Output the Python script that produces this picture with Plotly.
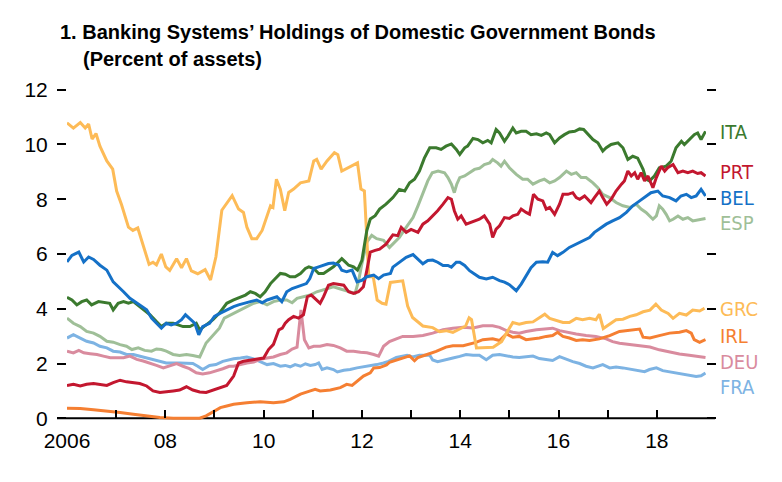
import plotly.graph_objects as go

# ---------------- data (decimal year, percent of assets) ----------------
ita_t = [2006.0, 2006.1, 2006.2, 2006.3, 2006.4, 2006.5, 2006.64, 2006.77, 2006.87, 2006.94, 2007.04, 2007.15, 2007.25, 2007.35, 2007.48, 2007.58, 2007.69, 2007.82, 2007.92, 2008.02, 2008.16, 2008.26, 2008.36, 2008.5, 2008.63, 2008.7, 2008.83, 2008.97, 2009.1, 2009.25, 2009.39, 2009.53, 2009.63, 2009.73, 2009.83, 2009.93, 2010.03, 2010.14, 2010.24, 2010.34, 2010.44, 2010.54, 2010.64, 2010.75, 2010.85, 2010.92, 2011.02, 2011.12, 2011.22, 2011.32, 2011.42, 2011.49, 2011.59, 2011.66, 2011.73, 2011.83, 2011.91, 2012.0, 2012.1, 2012.17, 2012.27, 2012.36, 2012.49, 2012.63, 2012.76, 2012.87, 2012.97, 2013.07, 2013.17, 2013.27, 2013.38, 2013.51, 2013.61, 2013.71, 2013.82, 2013.92, 2013.99, 2014.09, 2014.15, 2014.26, 2014.36, 2014.46, 2014.56, 2014.63, 2014.73, 2014.8, 2014.9, 2014.97, 2015.07, 2015.14, 2015.24, 2015.34, 2015.44, 2015.55, 2015.65, 2015.75, 2015.82, 2015.92, 2016.02, 2016.12, 2016.22, 2016.33, 2016.43, 2016.51, 2016.6, 2016.7, 2016.8, 2016.9, 2016.97, 2017.07, 2017.21, 2017.31, 2017.41, 2017.51, 2017.61, 2017.72, 2017.78, 2017.85, 2017.95, 2018.05, 2018.19, 2018.29, 2018.39, 2018.5, 2018.56, 2018.66, 2018.76, 2018.83, 2018.9, 2018.99]
ita_v = [4.42, 4.32, 4.14, 4.26, 4.32, 4.14, 4.26, 4.22, 4.2, 3.96, 4.2, 4.26, 4.2, 4.26, 4.08, 3.96, 3.78, 3.53, 3.35, 3.47, 3.47, 3.41, 3.35, 3.35, 3.47, 3.23, 3.41, 3.6, 3.84, 4.2, 4.32, 4.44, 4.5, 4.62, 4.56, 4.44, 4.62, 4.92, 5.1, 5.29, 5.26, 5.17, 5.17, 5.29, 5.47, 5.53, 5.47, 5.29, 5.29, 5.41, 5.53, 5.65, 5.83, 5.71, 5.59, 5.53, 5.41, 5.77, 6.86, 7.28, 7.4, 7.64, 7.82, 8.06, 8.36, 8.3, 8.6, 8.73, 9.03, 9.5, 9.88, 9.88, 9.82, 9.94, 10.02, 9.82, 9.64, 9.88, 9.94, 10.22, 10.18, 10.06, 10.15, 10.06, 10.55, 10.42, 10.12, 10.3, 10.6, 10.42, 10.48, 10.48, 10.36, 10.39, 10.33, 10.42, 10.36, 10.06, 10.24, 10.36, 10.46, 10.48, 10.57, 10.55, 10.36, 10.18, 10.06, 9.76, 9.88, 10.0, 10.06, 9.88, 9.45, 9.57, 9.5, 9.09, 8.73, 8.67, 8.85, 9.15, 9.21, 9.39, 9.88, 10.12, 10.0, 10.18, 10.36, 10.42, 10.18, 10.48]

prt_t = [2006.0, 2006.13, 2006.27, 2006.4, 2006.54, 2006.67, 2006.81, 2006.94, 2007.08, 2007.21, 2007.35, 2007.48, 2007.62, 2007.75, 2007.89, 2008.02, 2008.16, 2008.29, 2008.43, 2008.56, 2008.7, 2008.83, 2008.97, 2009.1, 2009.25, 2009.39, 2009.49, 2009.59, 2009.73, 2009.86, 2010.0, 2010.1, 2010.2, 2010.31, 2010.38, 2010.44, 2010.51, 2010.61, 2010.71, 2010.81, 2010.89, 2010.97, 2011.04, 2011.15, 2011.22, 2011.32, 2011.42, 2011.53, 2011.63, 2011.73, 2011.83, 2011.93, 2012.03, 2012.1, 2012.17, 2012.27, 2012.36, 2012.49, 2012.63, 2012.73, 2012.8, 2012.9, 2013.0, 2013.14, 2013.24, 2013.34, 2013.44, 2013.54, 2013.65, 2013.75, 2013.82, 2013.88, 2013.95, 2014.02, 2014.12, 2014.22, 2014.32, 2014.39, 2014.49, 2014.6, 2014.66, 2014.73, 2014.8, 2014.9, 2015.0, 2015.07, 2015.17, 2015.24, 2015.34, 2015.41, 2015.49, 2015.58, 2015.68, 2015.75, 2015.82, 2015.92, 2016.02, 2016.09, 2016.19, 2016.29, 2016.36, 2016.43, 2016.53, 2016.6, 2016.66, 2016.73, 2016.83, 2016.9, 2016.98, 2017.07, 2017.17, 2017.28, 2017.34, 2017.41, 2017.48, 2017.55, 2017.61, 2017.68, 2017.75, 2017.82, 2017.92, 2017.99, 2018.09, 2018.16, 2018.22, 2018.33, 2018.43, 2018.53, 2018.63, 2018.73, 2018.83, 2018.9, 2018.99]
prt_v = [1.2, 1.24, 1.18, 1.24, 1.27, 1.24, 1.2, 1.3, 1.39, 1.33, 1.3, 1.27, 1.18, 1.0, 0.94, 0.96, 1.0, 1.03, 1.15, 1.03, 0.96, 0.94, 1.03, 1.12, 1.2, 1.54, 2.02, 2.08, 2.12, 2.15, 2.2, 2.51, 2.7, 3.23, 3.29, 3.47, 3.6, 3.72, 3.66, 3.78, 4.44, 4.5, 4.38, 4.2, 4.44, 4.86, 4.92, 4.9, 4.86, 4.62, 4.56, 4.62, 4.8, 5.4, 6.07, 6.13, 6.18, 6.36, 6.7, 6.67, 6.97, 6.79, 6.9, 6.79, 7.09, 7.21, 7.39, 7.58, 7.82, 8.06, 8.0, 7.58, 7.27, 7.39, 7.09, 7.15, 7.21, 7.27, 7.39, 7.09, 6.61, 6.91, 7.03, 7.33, 7.3, 7.39, 7.45, 7.64, 7.52, 7.45, 8.18, 8.0, 7.94, 7.64, 7.7, 7.45, 7.82, 8.18, 8.18, 8.24, 8.06, 8.0, 8.12, 8.0, 7.88, 8.06, 8.3, 8.06, 7.82, 8.0, 8.3, 8.55, 8.67, 9.03, 8.85, 8.97, 8.73, 8.97, 8.67, 8.85, 8.42, 8.79, 9.21, 9.03, 9.15, 9.27, 8.97, 9.03, 8.97, 9.03, 8.94, 8.97, 8.85]

bel_t = [2006.0, 2006.1, 2006.24, 2006.34, 2006.44, 2006.54, 2006.67, 2006.81, 2006.94, 2007.05, 2007.15, 2007.28, 2007.42, 2007.55, 2007.62, 2007.72, 2007.82, 2007.92, 2008.02, 2008.12, 2008.23, 2008.33, 2008.41, 2008.51, 2008.6, 2008.68, 2008.76, 2008.9, 2009.0, 2009.12, 2009.24, 2009.39, 2009.49, 2009.59, 2009.73, 2009.86, 2009.97, 2010.07, 2010.17, 2010.27, 2010.37, 2010.47, 2010.58, 2010.68, 2010.78, 2010.87, 2010.94, 2011.02, 2011.12, 2011.22, 2011.32, 2011.42, 2011.53, 2011.59, 2011.69, 2011.8, 2011.9, 2012.0, 2012.1, 2012.24, 2012.34, 2012.44, 2012.58, 2012.63, 2012.76, 2012.9, 2013.04, 2013.14, 2013.24, 2013.34, 2013.44, 2013.54, 2013.65, 2013.75, 2013.82, 2013.92, 2013.99, 2014.09, 2014.19, 2014.29, 2014.39, 2014.53, 2014.66, 2014.8, 2014.9, 2015.0, 2015.14, 2015.24, 2015.34, 2015.44, 2015.55, 2015.68, 2015.78, 2015.88, 2015.98, 2016.09, 2016.22, 2016.36, 2016.49, 2016.63, 2016.73, 2016.83, 2016.97, 2017.1, 2017.24, 2017.38, 2017.51, 2017.65, 2017.78, 2017.88, 2018.02, 2018.12, 2018.26, 2018.39, 2018.49, 2018.6, 2018.7, 2018.8, 2018.9, 2018.99]
bel_v = [5.71, 5.95, 6.07, 5.71, 5.89, 5.8, 5.59, 5.41, 4.98, 4.8, 4.62, 4.38, 4.2, 4.02, 3.96, 3.66, 3.47, 3.29, 3.47, 3.41, 3.47, 3.6, 3.78, 3.6, 3.47, 3.05, 3.35, 3.47, 3.72, 3.84, 3.96, 4.08, 4.14, 4.2, 4.26, 4.32, 4.22, 4.32, 4.38, 4.44, 4.26, 4.62, 4.74, 4.8, 4.86, 4.92, 5.1, 5.47, 5.53, 5.59, 5.65, 5.67, 5.59, 5.41, 5.35, 5.41, 4.98, 5.04, 5.17, 5.23, 5.1, 5.23, 5.29, 5.52, 5.7, 5.88, 5.98, 5.82, 5.64, 5.76, 5.78, 5.7, 5.58, 5.58, 5.52, 5.7, 5.7, 5.58, 5.39, 5.27, 5.15, 5.09, 5.15, 5.03, 4.97, 4.88, 4.66, 4.9, 5.2, 5.5, 5.7, 5.72, 5.7, 6.06, 5.94, 6.06, 6.24, 6.36, 6.48, 6.6, 6.79, 6.91, 7.09, 7.21, 7.33, 7.52, 7.76, 7.94, 8.12, 8.24, 8.3, 8.12, 8.06, 7.94, 8.12, 8.18, 8.06, 8.12, 8.36, 8.12]

esp_t = [2006.0, 2006.13, 2006.27, 2006.4, 2006.54, 2006.67, 2006.81, 2006.94, 2007.08, 2007.21, 2007.32, 2007.45, 2007.58, 2007.72, 2007.82, 2007.92, 2008.02, 2008.16, 2008.29, 2008.43, 2008.56, 2008.7, 2008.83, 2008.97, 2009.1, 2009.2, 2009.39, 2009.53, 2009.66, 2009.8, 2009.93, 2010.07, 2010.2, 2010.34, 2010.47, 2010.58, 2010.68, 2010.81, 2010.95, 2011.08, 2011.19, 2011.29, 2011.42, 2011.53, 2011.63, 2011.76, 2011.86, 2011.93, 2012.0, 2012.1, 2012.2, 2012.3, 2012.44, 2012.56, 2012.76, 2012.9, 2013.04, 2013.14, 2013.24, 2013.34, 2013.43, 2013.55, 2013.68, 2013.75, 2013.82, 2013.88, 2013.93, 2013.99, 2014.09, 2014.19, 2014.29, 2014.39, 2014.49, 2014.6, 2014.66, 2014.76, 2014.83, 2014.9, 2015.0, 2015.14, 2015.27, 2015.37, 2015.48, 2015.61, 2015.71, 2015.82, 2015.92, 2016.02, 2016.16, 2016.26, 2016.36, 2016.46, 2016.56, 2016.7, 2016.8, 2016.9, 2017.04, 2017.17, 2017.31, 2017.45, 2017.58, 2017.68, 2017.78, 2017.92, 2017.99, 2018.05, 2018.12, 2018.19, 2018.26, 2018.33, 2018.43, 2018.53, 2018.63, 2018.73, 2018.83, 2018.99]
esp_v = [3.66, 3.47, 3.35, 3.17, 3.11, 2.99, 2.81, 2.78, 2.69, 2.63, 2.51, 2.57, 2.48, 2.45, 2.53, 2.51, 2.45, 2.33, 2.29, 2.33, 2.29, 2.24, 2.75, 3.05, 3.29, 3.66, 3.84, 3.96, 4.08, 4.2, 4.26, 4.14, 4.26, 4.32, 4.32, 4.22, 4.38, 4.44, 4.5, 4.62, 4.68, 4.74, 4.8, 4.74, 4.68, 4.62, 4.56, 5.0, 5.65, 6.43, 6.68, 6.56, 6.5, 6.24, 6.6, 6.97, 7.33, 7.76, 8.18, 8.67, 8.97, 9.03, 8.97, 8.79, 8.55, 8.24, 8.55, 8.79, 8.85, 8.97, 9.09, 9.13, 9.27, 9.33, 9.45, 9.33, 9.21, 9.39, 9.15, 8.91, 8.73, 8.73, 8.55, 8.67, 8.73, 8.6, 8.67, 8.79, 9.03, 8.91, 8.97, 8.79, 8.79, 8.6, 8.42, 8.18, 8.06, 7.88, 7.76, 7.7, 7.82, 7.64, 7.52, 7.27, 7.39, 7.76, 7.64, 7.45, 7.21, 7.27, 7.39, 7.27, 7.33, 7.21, 7.24, 7.3]

grc_t = [2006.0, 2006.13, 2006.27, 2006.37, 2006.44, 2006.51, 2006.59, 2006.67, 2006.81, 2006.93, 2007.01, 2007.11, 2007.25, 2007.34, 2007.44, 2007.54, 2007.67, 2007.75, 2007.82, 2007.92, 2008.01, 2008.09, 2008.23, 2008.33, 2008.43, 2008.53, 2008.66, 2008.81, 2008.92, 2009.03, 2009.15, 2009.36, 2009.49, 2009.59, 2009.66, 2009.76, 2009.86, 2009.97, 2010.07, 2010.14, 2010.19, 2010.26, 2010.34, 2010.43, 2010.51, 2010.61, 2010.75, 2010.92, 2011.02, 2011.08, 2011.17, 2011.29, 2011.44, 2011.51, 2011.59, 2011.75, 2011.91, 2011.98, 2012.05, 2012.14, 2012.23, 2012.31, 2012.41, 2012.49, 2012.58, 2012.83, 2012.93, 2013.03, 2013.24, 2013.44, 2013.58, 2013.71, 2013.85, 2013.99, 2014.11, 2014.18, 2014.23, 2014.33, 2014.4, 2014.67, 2014.84, 2014.97, 2015.07, 2015.2, 2015.34, 2015.48, 2015.58, 2015.72, 2015.82, 2015.95, 2016.09, 2016.22, 2016.36, 2016.49, 2016.63, 2016.76, 2016.83, 2016.91, 2017.04, 2017.17, 2017.31, 2017.45, 2017.58, 2017.72, 2017.86, 2017.98, 2018.09, 2018.23, 2018.33, 2018.46, 2018.6, 2018.73, 2018.87, 2018.97]
grc_v = [10.79, 10.6, 10.8, 10.6, 10.75, 10.2, 10.4, 9.94, 9.4, 9.1, 8.3, 7.8, 6.98, 6.86, 6.95, 6.37, 5.62, 5.7, 5.6, 6.0, 5.53, 5.4, 5.83, 5.5, 5.83, 5.38, 5.28, 5.43, 5.05, 5.9, 7.6, 8.13, 7.64, 7.52, 6.98, 6.56, 6.56, 6.86, 7.4, 7.76, 7.7, 8.73, 8.37, 7.58, 8.25, 8.37, 8.6, 8.67, 9.4, 9.46, 9.1, 9.4, 9.7, 9.63, 9.03, 9.18, 9.33, 8.37, 8.3, 5.17, 5.17, 4.32, 4.2, 4.17, 4.96, 5.02, 4.1, 3.68, 3.37, 3.31, 3.16, 3.2, 3.14, 3.26, 3.37, 3.67, 3.6, 2.57, 2.57, 2.59, 2.8, 3.2, 3.5, 3.44, 3.5, 3.52, 3.65, 3.8, 3.65, 3.57, 3.5, 3.5, 3.65, 3.6, 3.65, 3.6, 3.8, 3.28, 3.44, 3.6, 3.62, 3.72, 3.78, 3.89, 3.95, 4.17, 3.95, 3.83, 3.65, 3.83, 3.77, 3.95, 3.92, 4.02]

irl_t = [2006.0, 2006.27, 2006.54, 2006.81, 2007.08, 2007.35, 2007.62, 2007.89, 2008.16, 2008.43, 2008.7, 2008.83, 2008.97, 2009.12, 2009.25, 2009.39, 2009.66, 2009.93, 2010.2, 2010.41, 2010.54, 2010.75, 2010.95, 2011.05, 2011.15, 2011.36, 2011.56, 2011.69, 2011.8, 2011.9, 2012.03, 2012.17, 2012.24, 2012.36, 2012.5, 2012.56, 2012.76, 2012.97, 2013.07, 2013.14, 2013.31, 2013.51, 2013.71, 2013.85, 2014.06, 2014.19, 2014.32, 2014.46, 2014.66, 2014.8, 2014.94, 2015.07, 2015.2, 2015.34, 2015.48, 2015.61, 2015.75, 2015.88, 2015.98, 2016.09, 2016.22, 2016.36, 2016.49, 2016.63, 2016.83, 2017.04, 2017.24, 2017.45, 2017.65, 2017.72, 2017.86, 2018.05, 2018.26, 2018.46, 2018.6, 2018.7, 2018.76, 2018.87, 2018.99]
irl_v = [0.37, 0.36, 0.31, 0.27, 0.21, 0.15, 0.09, 0.03, 0.0, 0.0, 0.0, 0.09, 0.25, 0.39, 0.45, 0.51, 0.57, 0.6, 0.57, 0.6, 0.69, 0.88, 1.0, 1.06, 1.0, 1.03, 1.12, 1.24, 1.2, 1.36, 1.54, 1.66, 1.84, 1.85, 1.95, 2.04, 2.16, 2.28, 2.1, 2.22, 2.32, 2.44, 2.6, 2.65, 2.65, 2.7, 2.77, 2.87, 2.9, 2.84, 3.08, 2.96, 2.99, 2.87, 2.9, 2.93, 2.99, 3.02, 3.14, 2.99, 2.93, 2.84, 2.87, 2.84, 2.9, 3.02, 3.17, 3.23, 3.26, 2.96, 2.93, 3.02, 3.11, 3.14, 3.2, 3.11, 2.87, 2.77, 2.87]

deu_t = [2006.0, 2006.13, 2006.24, 2006.34, 2006.47, 2006.61, 2006.74, 2006.88, 2007.01, 2007.15, 2007.28, 2007.42, 2007.55, 2007.69, 2007.82, 2007.96, 2008.09, 2008.23, 2008.36, 2008.49, 2008.63, 2008.76, 2008.9, 2009.03, 2009.17, 2009.3, 2009.39, 2009.53, 2009.66, 2009.8, 2009.93, 2010.07, 2010.2, 2010.34, 2010.47, 2010.58, 2010.68, 2010.76, 2010.83, 2010.92, 2011.02, 2011.15, 2011.29, 2011.42, 2011.56, 2011.69, 2011.83, 2011.97, 2012.1, 2012.24, 2012.34, 2012.44, 2012.56, 2012.7, 2012.83, 2013.04, 2013.24, 2013.44, 2013.65, 2013.85, 2014.06, 2014.26, 2014.46, 2014.66, 2014.8, 2014.94, 2015.07, 2015.2, 2015.34, 2015.55, 2015.75, 2015.88, 2016.02, 2016.16, 2016.36, 2016.56, 2016.76, 2016.97, 2017.1, 2017.24, 2017.45, 2017.65, 2017.86, 2018.05, 2018.26, 2018.46, 2018.66, 2018.87, 2018.99]
deu_v = [2.45, 2.39, 2.48, 2.39, 2.36, 2.33, 2.27, 2.21, 2.21, 2.21, 2.27, 2.15, 2.09, 2.02, 1.93, 1.84, 1.93, 2.0, 1.9, 1.81, 1.66, 1.62, 1.66, 1.72, 1.81, 1.9, 1.9, 1.96, 2.02, 2.05, 2.15, 2.2, 2.24, 2.33, 2.39, 2.53, 2.6, 3.96, 2.87, 2.57, 2.63, 2.63, 2.69, 2.66, 2.57, 2.45, 2.45, 2.41, 2.39, 2.33, 2.27, 2.63, 2.8, 2.9, 2.99, 2.99, 3.02, 3.11, 3.23, 3.29, 3.32, 3.3, 3.38, 3.38, 3.32, 3.2, 3.14, 3.11, 3.17, 3.23, 3.26, 3.29, 3.2, 3.14, 3.08, 3.02, 2.99, 2.9, 2.8, 2.74, 2.7, 2.66, 2.6, 2.5, 2.41, 2.35, 2.3, 2.24, 2.22]

fra_t = [2006.0, 2006.13, 2006.27, 2006.4, 2006.54, 2006.67, 2006.81, 2006.94, 2007.08, 2007.21, 2007.35, 2007.48, 2007.62, 2007.75, 2007.89, 2008.02, 2008.29, 2008.43, 2008.56, 2008.66, 2008.76, 2008.9, 2009.03, 2009.17, 2009.3, 2009.39, 2009.53, 2009.66, 2009.8, 2009.93, 2010.07, 2010.2, 2010.34, 2010.44, 2010.54, 2010.64, 2010.75, 2010.85, 2010.95, 2011.05, 2011.12, 2011.19, 2011.29, 2011.42, 2011.5, 2011.63, 2011.76, 2011.9, 2012.03, 2012.17, 2012.3, 2012.44, 2012.54, 2012.7, 2012.83, 2012.92, 2013.03, 2013.17, 2013.38, 2013.44, 2013.54, 2013.71, 2013.85, 2013.99, 2014.12, 2014.26, 2014.39, 2014.53, 2014.66, 2014.8, 2014.94, 2015.07, 2015.2, 2015.34, 2015.48, 2015.61, 2015.75, 2015.88, 2016.02, 2016.16, 2016.29, 2016.43, 2016.56, 2016.7, 2016.83, 2016.9, 2017.04, 2017.17, 2017.31, 2017.45, 2017.58, 2017.75, 2017.85, 2017.99, 2018.12, 2018.26, 2018.39, 2018.53, 2018.66, 2018.8, 2018.9, 2018.99]
fra_v = [2.93, 3.05, 2.93, 2.81, 2.75, 2.63, 2.57, 2.45, 2.42, 2.33, 2.33, 2.27, 2.21, 2.15, 2.07, 2.02, 2.02, 2.0, 2.0, 1.9, 1.78, 1.93, 1.96, 2.08, 2.15, 2.17, 2.2, 2.24, 2.17, 2.08, 1.96, 2.0, 1.9, 1.93, 1.88, 1.96, 1.9, 1.99, 1.93, 1.96, 2.02, 1.78, 1.84, 1.78, 1.69, 1.75, 1.78, 1.84, 1.88, 1.9, 1.96, 2.02, 2.08, 2.22, 2.28, 2.3, 2.24, 2.3, 2.3, 2.13, 2.07, 2.13, 2.2, 2.26, 2.33, 2.3, 2.3, 2.14, 2.3, 2.33, 2.28, 2.24, 2.22, 2.24, 2.27, 2.18, 2.15, 2.11, 2.25, 2.15, 2.07, 2.0, 1.9, 1.84, 1.9, 1.96, 1.84, 1.87, 1.84, 1.79, 1.75, 1.7, 1.78, 1.84, 1.74, 1.7, 1.65, 1.62, 1.57, 1.53, 1.55, 1.65]

series_names = ["ITA", "PRT", "BEL", "ESP", "GRC", "IRL", "DEU", "FRA"]
label_y = [10.47, 9.0, 8.03, 7.12, 3.98, 3.0, 2.07, 1.13]
x_tickvals = list(range(2006, 2020))
x_ticktext = ["2006", "", "08", "", "10", "", "12", "", "14", "", "16", "", "18", ""]
y_tickvals = [0, 2, 4, 6, 8, 10, 12]

colors = {
    "ITA": "#3b7a2e", "PRT": "#c3172f", "BEL": "#1571c7", "ESP": "#9fbf98",
    "GRC": "#fdbb57", "IRL": "#f57f32", "DEU": "#d98b9e", "FRA": "#7db3e3",
}
data = {
    "ITA": (ita_t, ita_v), "PRT": (prt_t, prt_v), "BEL": (bel_t, bel_v),
    "ESP": (esp_t, esp_v), "GRC": (grc_t, grc_v), "IRL": (irl_t, irl_v),
    "DEU": (deu_t, deu_v), "FRA": (fra_t, fra_v),
}

# ---------------- layout geometry ----------------
W, H = 782, 482
ML, MR, MT, MB = 67, 76, 87, 61
PW, PH = W - ML - MR, H - MT - MB
Y0, Y1 = -0.1, 12.1

def px_x(px):
    return (px - ML) / PW

def px_y(py):
    return (H - MB - py) / PH

FONT = "Liberation Sans, Arial, sans-serif"
NARROW = "DejaVu Sans Condensed, Liberation Sans Narrow, Arial Narrow, Liberation Sans, sans-serif"

fig = go.Figure()
draw_order = ["ESP", "FRA", "DEU", "IRL", "GRC", "ITA", "PRT", "BEL"]
for name in draw_order:
    t, v = data[name]
    fig.add_trace(go.Scatter(x=t, y=v, mode="lines", name=name,
                             line=dict(color=colors[name], width=3),
                             hoverinfo="skip", showlegend=False))
# invisible helper trace so the right-hand tick axis is drawn
fig.add_trace(go.Scatter(x=[x_tickvals[0]], y=[y_tickvals[0]], yaxis="y2", mode="lines",
                         line=dict(width=0), hoverinfo="skip", showlegend=False))

fig.update_layout(
    width=W, height=H,
    margin=dict(l=ML, r=MR, t=MT, b=MB, pad=0),
    paper_bgcolor="white", plot_bgcolor="white",
    showlegend=False,
    font=dict(family=FONT, size=20, color="black"),
    xaxis=dict(range=[2006, 2019], tickmode="array", tickvals=x_tickvals, ticktext=x_ticktext,
               ticks="inside", ticklen=8, tickwidth=2, tickcolor="black",
               showgrid=False, zeroline=False, showline=False,
               anchor="free", position=(0 - Y0) / (Y1 - Y0),
               ticklabelstandoff=8,
               tickfont=dict(family=FONT, size=21, color="black")),
    yaxis=dict(range=[Y0, Y1], tickmode="array", tickvals=y_tickvals,
               ticks="outside", ticklen=9, tickwidth=2, tickcolor="black",
               showgrid=False, zeroline=False, showline=False,
               ticklabelstandoff=5,
               tickfont=dict(family=FONT, size=21, color="black")),
    yaxis2=dict(range=[Y0, Y1], overlaying="y", side="right", tickmode="array",
                tickvals=y_tickvals, ticks="outside", ticklen=9, tickwidth=2,
                tickcolor="black", showticklabels=False, showgrid=False,
                zeroline=False, showline=False),
)

# horizontal axis line extending under the tick marks on both sides
fig.add_shape(type="line", xref="paper", yref="y", x0=px_x(57), x1=px_x(715),
              y0=0, y1=0, line=dict(color="black", width=2), layer="below")

# title
fig.add_annotation(xref="paper", yref="paper", x=px_x(58), y=px_y(19), xanchor="left",
                   yanchor="top", showarrow=False,
                   text="<b>1. Banking Systems’ Holdings of Domestic Government Bonds</b>",
                   font=dict(family=FONT, size=20, color="black"))
fig.add_annotation(xref="paper", yref="paper", x=px_x(81), y=px_y(46), xanchor="left",
                   yanchor="top", showarrow=False,
                   text="<b>(Percent of assets)</b>",
                   font=dict(family=FONT, size=20, color="black"))

# series labels at right
for name, ly in zip(series_names, label_y):
    fig.add_annotation(xref="paper", yref="y", x=px_x(718), y=ly, xanchor="left",
                       yanchor="middle", showarrow=False, text=name,
                       font=dict(family=NARROW, size=20, color=colors[name]))

# remove the default page margin so the figure sits at the window origin
fig.write_html("out.html", config={"displayModeBar": False},
               post_script="document.body.style.margin='0px';")
